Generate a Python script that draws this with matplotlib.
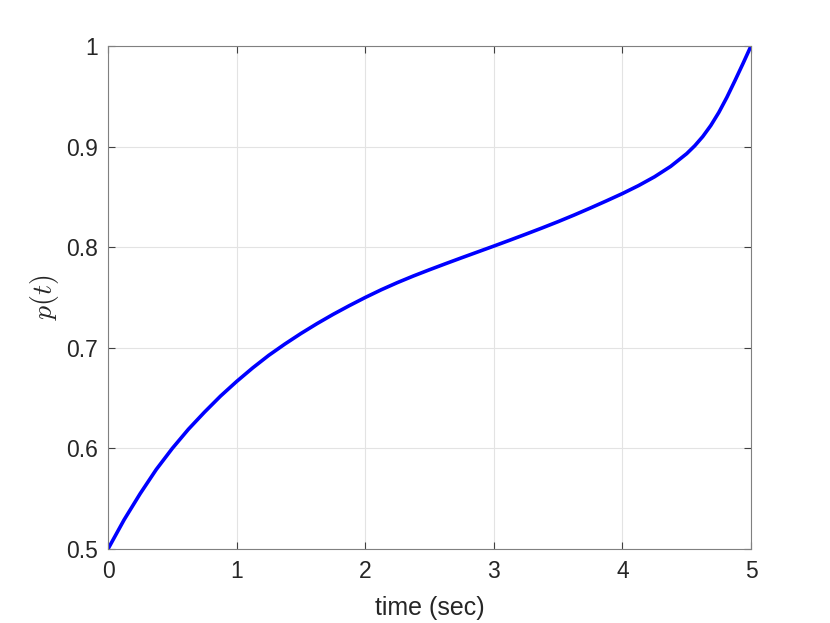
import numpy as np
import matplotlib
matplotlib.use("Agg")
import matplotlib.pyplot as plt

# values
t_vals = [0.0, 0.125, 0.25, 0.375, 0.5, 0.625, 0.75, 0.875, 1.0, 1.125, 1.25,
          1.375, 1.5, 1.625, 1.75, 1.875, 2.0, 2.125, 2.25, 2.375, 2.5, 2.625,
          2.75, 2.875, 3.0, 3.125, 3.25, 3.375, 3.5, 3.625, 3.75, 3.875, 4.0,
          4.125, 4.25, 4.375, 4.5, 4.5625, 4.625, 4.6875, 4.75, 4.8125, 4.875,
          4.9375, 5.0]
p_vals = [0.500, 0.529, 0.555, 0.579, 0.600, 0.619, 0.636, 0.652, 0.6665, 0.6800,
          0.6925, 0.7037, 0.7142, 0.7240, 0.7332, 0.7418, 0.7500, 0.7577, 0.7648,
          0.7714, 0.7776, 0.7836, 0.7895, 0.7953, 0.8011, 0.8070, 0.8130, 0.8191,
          0.8254, 0.8320, 0.8389, 0.8460, 0.8533, 0.8612, 0.8700, 0.8803, 0.8930,
          0.9008, 0.9100, 0.9210, 0.9340, 0.9490, 0.9655, 0.9825, 1.000]

x_ticks = [0, 1, 2, 3, 4, 5]
y_ticks = [0.5, 0.6, 0.7, 0.8, 0.9, 1.0]
y_ticklabels = ['0.5', '0.6', '0.7', '0.8', '0.9', '1']

plt.rcParams['font.family'] = ['Liberation Sans', 'DejaVu Sans']
plt.rcParams['mathtext.fontset'] = 'cm'

txt = '#262626'
fig = plt.figure(figsize=(8.3, 6.23), dpi=100)
ax = fig.add_axes([108/830, 1-549/623, (751-108)/830, (549-46)/623])

ax.plot(t_vals, p_vals, color=(0, 0, 1), lw=2.6,
        solid_capstyle='round', solid_joinstyle='round')

ax.set_xlim(0, 5)
ax.set_ylim(0.5, 1)
ax.set_xticks(x_ticks)
ax.set_yticks(y_ticks)
ax.set_yticklabels(y_ticklabels)
ax.grid(True, color='#e3e3e3', lw=0.8)
ax.set_axisbelow(True)

for s in ax.spines.values():
    s.set_color('#808080')
    s.set_linewidth(0.8)
ax.tick_params(direction='in', length=5, width=0.8, color='#404040',
               top=True, right=True, labelsize=16.5, labelcolor=txt)
ax.tick_params(axis='x', pad=8)
ax.tick_params(axis='y', pad=7)

ax.set_xlabel('time (sec)', fontsize=18, color=txt, labelpad=9)
ax.set_ylabel(r'$p(t)$', fontsize=20, color=txt, labelpad=4)

fig.savefig('out.png', dpi=100)
